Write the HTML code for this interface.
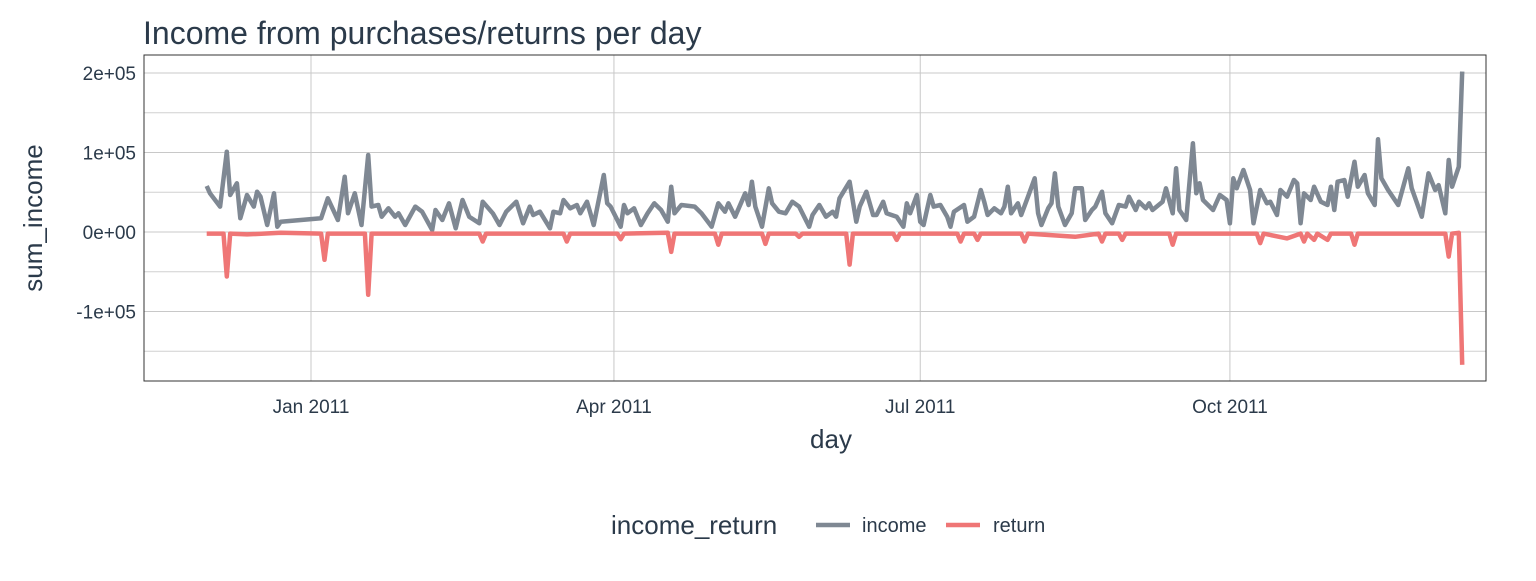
<!DOCTYPE html>
<html><head><meta charset="utf-8"><style>
body{margin:0;background:#fff;width:1536px;height:576px;overflow:hidden}
svg text{font-family:"Liberation Sans",sans-serif;fill:#2b3a4a}
</style></head><body>
<svg id="chart" width="1536" height="576" xmlns="http://www.w3.org/2000/svg">
<text x="143" y="44" font-size="32">Income from purchases/returns per day</text>
<g id="grid"></g>
<g id="series"></g>
<rect x="144" y="55" width="1342" height="326" fill="none" stroke="#333" stroke-width="1"/>
<g id="axes"></g>
<text transform="translate(42,218) rotate(-90)" font-size="26" text-anchor="middle">sum_income</text>
<text x="831" y="448" font-size="26" text-anchor="middle">day</text>
<g>
<text x="611" y="534" font-size="26">income_return</text>
<line x1="816" y1="525" x2="850" y2="525" stroke="#7f8893" stroke-width="4.5"/>
<text x="862" y="532" font-size="20">income</text>
<line x1="946" y1="525" x2="980" y2="525" stroke="#ef7676" stroke-width="4.5"/>
<text x="993" y="532" font-size="20">return</text>
</g>
</svg>
<script>
// days since 2010-12-01, values in thousands
const incomeDays=[0,1,4,6,7,9,10,12,14,15,16,18,20,21,22,34,36,39,41,42,44,46,48,49,51,52,54,56,57,59,62,64,67,68,70,72,74,76,78,81,82,85,87,89,92,94,96,97,99,102,103,105,106,108,110,111,113,114,115,118,119,120,123,124,125,127,129,131,133,135,137,138,139,141,145,147,150,152,154,155,157,160,161,162,163,165,167,168,170,172,174,176,179,180,182,184,186,187,188,191,193,194,196,198,199,201,202,205,207,208,209,211,212,213,215,216,218,220,221,222,225,226,228,230,231,232,234,236,237,238,239,241,242,244,246,247,248,250,251,252,253,255,257,258,260,261,263,264,266,267,269,271,273,274,276,277,279,280,281,284,285,287,288,289,291,293,294,295,296,299,301,303,304,305,306,308,310,311,313,315,316,318,319,321,323,324,325,326,328,329,331,333,334,335,336,338,339,341,342,344,345,347,348,349,351,354,357,358,361,363,365,366,368,369,370,372,373];
const incomeValues=[57.9,48.7,31.9,101,46.5,61.2,17.2,46.5,31.9,50.7,44.4,8.8,48.7,6.7,13,17.2,42.4,15.1,69.6,23.5,48.7,8.8,96.9,31.9,34,19.3,29.8,19.3,23.5,8.8,31.9,25.5,2.5,27.7,15.1,36.1,4.6,40.3,19.3,10.9,38.1,23.5,8.8,25.5,38.1,10.9,31.9,21.4,25.5,4.6,25.5,23.5,40.3,29.8,34,23.5,38.1,23.5,8.8,71.7,36.1,31.9,6.7,34,23.5,29.8,8.8,23.5,36.1,27.7,13,57,23.5,34,31.9,23.5,6.7,36.1,25.5,36.1,19.3,48.7,34,63.3,31.9,6.7,55,36.1,25.5,23.5,38.1,31.9,6.7,21.4,34,19.3,25.5,19.3,42.4,63.3,13,31.9,50.7,21.4,21.4,38.1,23.5,19.3,6.7,36.1,23.5,46.5,13,8.8,46.5,31.9,34,19.3,6.7,25.5,34,13,19.3,52.8,38.1,21.4,29.8,23.5,31.9,57,23.5,36.1,21.4,44.4,67.5,23.5,8.8,29.8,36.1,73.8,31.9,8.8,23.5,55,55,15.1,27.7,31.9,50.7,23.5,10.9,34,31.9,44.4,27.7,38.1,29.8,36.1,27.7,38.1,55,23.5,80.1,27.7,15.1,111.6,48.7,61.2,40.3,27.7,46.5,40.3,10.9,67.5,55,78,52.8,10.9,52.8,36.1,38.1,21.4,52.8,44.4,65.4,61.2,10.9,48.7,40.3,57,38.1,34,57,27.7,63.3,65.4,44.4,88.4,57,71.7,48.7,34,116.6,67.5,52.8,34,80.1,55,19.3,73.8,52.8,59,23.5,90.6,57,82.2,201.7];
const returnDays=[0,5,6,7,12,22,34,35,36,47,48,49,60,81,82,83,106,107,108,122,123,124,137,138,139,151,152,153,165,166,167,175,176,177,190,191,192,204,205,206,223,224,225,228,229,230,242,243,244,258,265,266,267,271,272,273,286,287,288,312,313,314,321,325,326,327,329,330,333,334,340,341,342,368,369,370,372,373];
const returnValues=[-2,-2,-56,-2,-3,-1,-2,-35,-2,-2,-79,-2,-2,-2,-12,-2,-2,-12,-2,-2,-9,-2,-1,-25,-2,-2,-16,-2,-2,-15,-2,-2,-6,-2,-2,-41,-2,-2,-10,-2,-2,-12,-2,-2,-10,-2,-2,-12,-2,-6,-2,-12,-2,-2,-10,-2,-2,-16,-2,-2,-14,-2,-8,-2,-12,-2,-10,-2,-10,-2,-2,-16,-2,-2,-31,-2,-1,-167];
const yTicks=[200,100,0,-100];
const yTickLabels=["2e+05","1e+05","0e+00","-1e+05"];
const yMinor=[150,50,-50,-150];
const xTickDays=[31,121,212,304];
const xTickLabels=["Jan 2011","Apr 2011","Jul 2011","Oct 2011"];

const NS="http://www.w3.org/2000/svg";
function xs(d){return 311+(d-31)*3.366;}
function ys(v){return 232-v*0.795;}
function mk(tag,attrs,parent){const e=document.createElementNS(NS,tag);for(const k in attrs)e.setAttribute(k,attrs[k]);parent.appendChild(e);return e;}
const grid=document.getElementById('grid'),axes=document.getElementById('axes'),series=document.getElementById('series');
yMinor.forEach(v=>{const l=mk('line',{x1:144,x2:1486,y1:ys(v),y2:ys(v),stroke:'#d0d0d0','stroke-width':1},grid);

});
yTicks.forEach((v,i)=>{const l=mk('line',{x1:144,x2:1486,y1:ys(v),y2:ys(v),stroke:'#c8c8c8','stroke-width':1},grid);


const t=mk('text',{x:136,y:ys(v)+7,'font-size':19,'text-anchor':'end'},axes);t.textContent=yTickLabels[i];

});
xTickDays.forEach((d,i)=>{const l=mk('line',{x1:xs(d),x2:xs(d),y1:55,y2:381,stroke:'#c8c8c8','stroke-width':1},grid);


const t=mk('text',{x:xs(d),y:413,'font-size':19,'text-anchor':'middle'},axes);t.textContent=xTickLabels[i];

});
function path(days,vals,color,name){const dstr=days.map((d,i)=>(i?'L':'M')+xs(d).toFixed(1)+','+ys(vals[i]).toFixed(1)).join('');
const p=mk('path',{d:dstr,fill:'none',stroke:color,'stroke-width':4.5,'stroke-linejoin':'round'},series);

}
path(incomeDays,incomeValues,'#7f8893','income-line');
path(returnDays,returnValues,'#ef7676','return-line');
</script>
</body></html>
